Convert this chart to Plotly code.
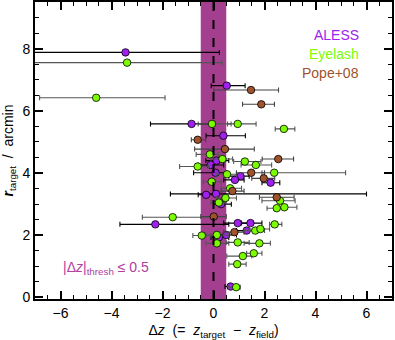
import plotly.graph_objects as go

# ALESS
aless_dz = [-3.45, -0.86, 0.52, 0.39, 0.12, -0.11, 0.08, 1.06, 0.84, 2.24, -0.29, 0.10, 0.30, -2.28, 0.95, 1.45, 1.30, 0.50, 0.21, 0.67]
aless_r = [7.88, 5.58, 6.81, 5.20, 4.40, 4.26, 4.01, 3.90, 3.78, 3.69, 3.30, 3.33, 3.00, 2.35, 2.39, 2.39, 2.15, 2.01, 1.93, 0.35]
aless_lo = [-8.0, -2.47, -0.09, -0.29, -0.30, -0.60, -0.78, 0.60, 0.40, 1.90, -0.60, -1.69, 0.00, -3.67, 0.40, 1.10, 0.90, 0.10, -0.10, 0.45]
aless_hi = [0.23, 0.00, 1.24, 1.25, 0.60, 0.40, 0.50, 1.40, 1.20, 2.60, 0.10, 6.00, 0.70, 0.60, 1.50, 1.90, 1.70, 0.90, 0.60, 0.90]

# Eyelash
eye_dz = [-3.39, -4.60, -0.06, 0.95, 2.76, -0.14, 0.35, 1.23, 1.66, -0.62, 0.53, 2.38, -0.07, 0.65, 0.47, 0.21, 2.61, 2.48, 2.78, -1.60, 2.40, -0.46, 0.13, 1.64, 1.84, 0.13, 0.95, 1.80, 1.15, 1.58, 0.93, 0.89]
eye_r = [7.55, 6.42, 5.58, 5.58, 5.42, 4.60, 4.45, 4.37, 4.26, 4.21, 3.96, 4.01, 3.72, 3.51, 3.20, 3.05, 3.11, 2.87, 2.90, 2.58, 2.35, 1.99, 2.01, 2.15, 2.20, 1.74, 1.77, 1.74, 1.33, 1.42, 1.07, 0.33]
eye_lo = [-8.0, -6.82, -0.60, 0.55, 2.42, -0.68, -0.10, 0.79, 1.08, -1.33, 0.10, 1.90, -0.40, 0.30, 0.10, -0.10, 1.90, 2.10, 2.45, -2.79, 2.20, -0.81, -0.30, 1.20, 1.40, -0.30, 0.50, 1.20, 0.52, 1.30, 0.60, 0.60]
eye_hi = [0.34, -1.90, 0.69, 1.67, 3.19, 0.20, 0.75, 1.86, 2.28, -0.20, 0.90, 5.18, 0.30, 1.10, 0.90, 0.50, 3.20, 2.80, 3.27, 0.00, 2.68, -0.10, 0.60, 2.00, 2.20, 0.60, 1.40, 2.23, 1.50, 1.90, 1.28, 1.05]

# Pope+08
pope_dz = [1.47, 1.875, -0.62, 0.45, 2.54, 1.48, 1.97, 0.74, 2.48, 0.01, 0.82]
pope_r = [6.67, 6.21, 5.07, 4.77, 4.45, 4.01, 3.83, 3.42, 3.22, 2.60, 2.10]
pope_lo = [0.01, 1.14, -0.87, -0.74, 1.91, 0.90, 1.50, 0.30, 1.80, -0.50, 0.40]
pope_hi = [2.55, 2.39, -0.31, 1.60, 3.14, 2.00, 2.40, 1.20, 3.16, 0.50, 1.20]

dz_thresh = 0.5

C_ALESS = "#A020F0"
C_EYE = "#7CFC00"
C_POPE = "#A0522D"
C_BAND = "#A43E8E"

fig = go.Figure()

def add(x, y, lo, hi, col, ecol, name):
    fig.add_trace(go.Scatter(
        x=x, y=y, mode="markers", name=name, showlegend=False,
        marker=dict(color=col, size=7.5, line=dict(color="black", width=0.8)),
        error_x=dict(type="data", symmetric=False,
                     array=[h - v for h, v in zip(hi, x)],
                     arrayminus=[v - l for l, v in zip(lo, x)],
                     color=ecol, thickness=1.1, width=2.5),
    ))

add(aless_dz, aless_r, aless_lo, aless_hi, C_ALESS, "black", "ALESS")
add(eye_dz, eye_r, eye_lo, eye_hi, C_EYE, "#555555", "Eyelash")
add(pope_dz, pope_r, pope_lo, pope_hi, C_POPE, "#444444", "Pope+08")

fig.add_shape(type="rect", x0=-dz_thresh, x1=dz_thresh, y0=0, y1=1, yref="paper",
              fillcolor=C_BAND, line=dict(width=0), layer="below")
fig.add_shape(type="line", x0=0, x1=0, y0=0, y1=1, yref="paper",
              line=dict(color="black", width=2, dash="dash"))

for txt, yy, col in [("ALESS", 8.44, C_ALESS), ("Eyelash", 7.83, C_EYE), ("Pope+08", 7.23, C_POPE)]:
    fig.add_annotation(x=5.78, y=yy, text=txt, showarrow=False, xanchor="right",
                       font=dict(color=col, size=14, family="Liberation Sans"))

fig.add_annotation(x=-4.2, y=0.95, showarrow=False,
                   text="|Δ<i>z</i>|<sub>thresh</sub> ≤ 0.5",
                   font=dict(color="#B0409F", size=14, family="Liberation Sans"))

axis_common = dict(showline=True, linecolor="black", linewidth=2, mirror="allticks",
                   ticks="inside", ticklen=8, tickwidth=1.5, tickcolor="black",
                   showgrid=False, zeroline=False, automargin=False,
                   tickfont=dict(size=14, color="black", family="Liberation Sans"),
                   minor=dict(ticks="inside", ticklen=4, tickwidth=1, tickcolor="black", dtick=0.5))

fig.update_xaxes(range=[-7, 7], dtick=2, tick0=0,
                 title=dict(text="Δ<i>z</i>  (=  <i>z</i><sub>target</sub>  −  <i>z</i><sub>field</sub>)",
                            font=dict(size=14, family="Liberation Sans", color="black")),
                 **axis_common)
fig.update_yaxes(range=[-0.05, 9.5], dtick=2, tick0=0,
                 title=dict(text="<b><i>r</i></b><sub>target</sub>  /  arcmin",
                            font=dict(size=14, family="Liberation Sans", color="black")),
                 **axis_common)

fig.update_layout(width=395, height=340, margin=dict(l=35, r=3, t=2, b=41),
                  plot_bgcolor="white", paper_bgcolor="white")

fig.write_html("out.html", config={"displayModeBar": False},
               post_script="document.body.style.margin='0px';")
